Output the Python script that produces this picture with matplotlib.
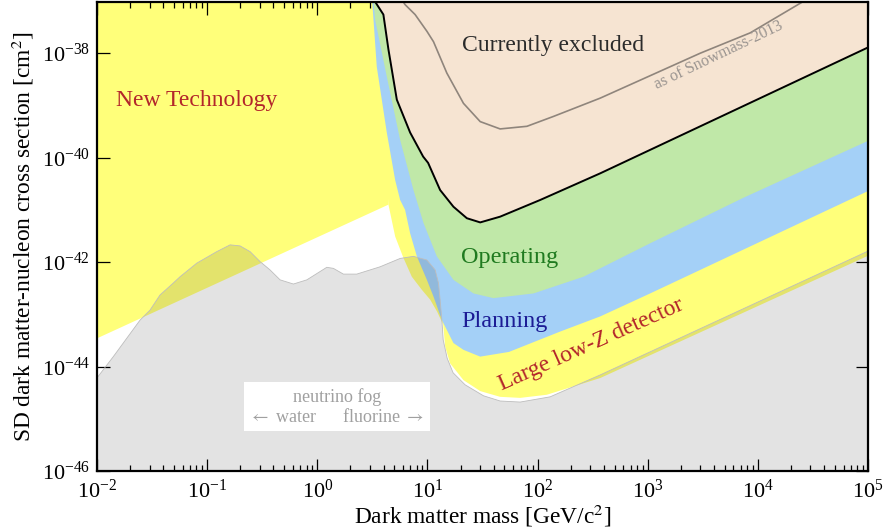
import numpy as np
import matplotlib
matplotlib.use("Agg")
import matplotlib.pyplot as plt
from matplotlib.ticker import LogLocator, NullLocator

plt.rcParams['font.family'] = ['Liberation Serif', 'DejaVu Serif']
plt.rcParams['mathtext.fontset'] = 'stix'

# all boundaries as log10(mass/GeV), log10(sigma/cm^2)
TOP = -36.5

newtech_logm = [-2.0, 0.646, 0.646, -2.0]
newtech_logs = [-43.46, -40.90, TOP, TOP]

lowz_logm = [0.50, 0.646, 0.707, 0.782, 0.858, 0.949, 1.025, 1.088, 1.143, 1.161,
             1.206, 1.327, 1.479, 1.660, 1.842, 2.084, 2.569, 5.03]
lowz_logs = [-37.0, -40.90, -41.51, -41.92, -42.28, -42.53, -42.72, -42.95, -43.20, -43.62,
             -43.94, -44.26, -44.47, -44.58, -44.60, -44.54, -44.22, -41.85]

plan_logm = [0.495, 0.540, 0.631, 0.707, 0.752, 0.797, 0.843, 0.904, 0.995, 1.055,
             1.131, 1.236, 1.327, 1.479, 1.740, 2.205, 2.569, 3.022, 5.03]
plan_logs = [-36.9, -38.26, -39.52, -40.43, -40.81, -41.00, -41.45, -41.89, -42.34, -42.66,
             -43.11, -43.55, -43.68, -43.81, -43.72, -43.33, -43.04, -42.60, -40.61]

oper_logm = [0.505, 0.525, 0.631, 0.752, 0.873, 0.964, 1.085, 1.236, 1.418, 1.599,
             1.963, 2.417, 3.022, 3.867, 5.03]
oper_logs = [-36.9, -37.36, -38.45, -39.66, -40.62, -41.25, -41.89, -42.34, -42.60, -42.69,
             -42.60, -42.28, -41.64, -40.77, -39.65]

excl_logm = [0.490, 0.600, 0.646, 0.722, 0.843, 0.961, 1.006, 1.115, 1.236, 1.358,
             1.479, 1.660, 2.024, 2.569, 5.03]
excl_logs = [-36.9, -37.26, -37.93, -38.89, -39.52, -39.98, -40.10, -40.62, -40.94, -41.16,
             -41.24, -41.13, -40.81, -40.30, -37.86]

snow_logm = [0.760, 0.797, 0.888, 0.995, 1.055, 1.176, 1.327, 1.479, 1.660, 1.903,
             2.145, 2.569, 3.477, 3.931, 4.50]
snow_logs = [-36.95, -37.07, -37.26, -37.58, -37.78, -38.38, -38.96, -39.31, -39.45, -39.40,
             -39.21, -38.86, -38.00, -37.61, -36.90]

fog_logm = [-2.03, -1.852, -1.609, -1.519, -1.428, -1.307, -1.246, -1.094, -0.913, -0.792,
            -0.701, -0.610, -0.520, -0.429, -0.338, -0.217, -0.095, 0.086, 0.146, 0.237,
            0.358, 0.570, 0.752, 0.873, 0.995, 1.070, 1.100, 1.115, 1.131, 1.143,
            1.179, 1.233, 1.342, 1.509, 1.660, 1.842, 2.114, 2.569, 5.03]
fog_logs = [-44.30, -43.81, -43.11, -42.92, -42.63, -42.40, -42.28, -42.02, -41.80, -41.67,
            -41.69, -41.80, -41.99, -42.15, -42.34, -42.42, -42.34, -42.10, -42.12, -42.23,
            -42.23, -42.09, -41.93, -41.89, -41.96, -42.15, -42.40, -42.72, -43.11, -43.49,
            -43.84, -44.12, -44.35, -44.56, -44.66, -44.68, -44.58, -44.16, -41.76]

mass_ticks = [1e-2, 1e-1, 1e0, 1e1, 1e2, 1e3, 1e4, 1e5]
sigma_ticks = [1e-46, 1e-44, 1e-42, 1e-40, 1e-38]

YELLOW = '#ffff7a'
BLUE = '#a4d0f7'
GREEN = '#c0e8a8'
BEIGE = '#f6e4d2'


def closed_region(logm, logs):
    m = list(logm) + [logm[-1], logm[0]]
    s = list(logs) + [TOP, TOP]
    return 10.0 ** np.array(m), 10.0 ** np.array(s)


fig = plt.figure(figsize=(8.86, 5.31), dpi=100)
ax = fig.add_axes([0.1095, 0.113, 0.8702, 0.8832])
ax.set_xscale('log')
ax.set_yscale('log')

ax.fill(10.0 ** np.array(newtech_logm), 10.0 ** np.array(newtech_logs), color=YELLOW, lw=0, zorder=1)
ax.fill(*closed_region(lowz_logm, lowz_logs), color=YELLOW, lw=0, zorder=1)
ax.fill(*closed_region(plan_logm, plan_logs), color=BLUE, lw=0, zorder=2)
ax.fill(*closed_region(oper_logm, oper_logs), color=GREEN, lw=0, zorder=3)
ax.fill(*closed_region(excl_logm, excl_logs), color=BEIGE, lw=0, zorder=4)
ax.plot(10.0 ** np.array(excl_logm), 10.0 ** np.array(excl_logs), color='black', lw=1.4,
        solid_joinstyle='round', zorder=5)
ax.plot(10.0 ** np.array(snow_logm), 10.0 ** np.array(snow_logs), color='#8f857c', lw=1.2,
        solid_joinstyle='round', zorder=5)

fm = 10.0 ** np.array(fog_logm)
fs = 10.0 ** np.array(fog_logs)
ax.fill(np.concatenate([fm, [fm[-1], fm[0]]]), np.concatenate([fs, [1e-48, 1e-48]]),
        facecolor=(0, 0, 0, 0.11), edgecolor='none', zorder=6)
ax.plot(fm, fs, color='#bdbdbd', lw=0.6, zorder=6)

ax.set_xlim(1e-2, 1e5)
ax.set_ylim(1e-46, 10 ** -37.02)

ax.text(0.0149, 10 ** -38.91, 'New Technology', color='#b3262b', fontsize=17, ha='left', va='center', zorder=8)
ax.text(138.6, 10 ** -37.86, 'Currently excluded', color='#2b2b2b', fontsize=17, ha='center', va='center', zorder=8)
ax.text(55.8, 10 ** -41.92, 'Operating', color='#1f7a1f', fontsize=17.5, ha='center', va='center', zorder=8)
ax.text(49.8, 10 ** -43.13, 'Planning', color='#1c1c95', fontsize=17.5, ha='center', va='center', zorder=8)
ax.text(307, 10 ** -43.59, 'Large low-Z detector', color='#b3262b', fontsize=17, ha='center', va='center',
        rotation=24, rotation_mode='anchor', zorder=8)
ax.text(4400, 10 ** -38.03, 'as of Snowmass-2013', color='#9a9490', fontsize=11.5, ha='center', va='center',
        rotation=25.5, rotation_mode='anchor', zorder=8)
ax.text(1.5, 10 ** -44.77, 'neutrino fog\n$\\leftarrow$ water      fluorine $\\rightarrow$', color='#a0a0a0',
        fontsize=13, ha='center', va='center', multialignment='center', linespacing=1.15,
        bbox=dict(boxstyle='square,pad=0.3', fc='white', ec='none'), zorder=9)

ax.set_xticks(mass_ticks)
ax.set_yticks(sigma_ticks)
ax.yaxis.set_minor_locator(NullLocator())
ax.xaxis.set_minor_locator(LogLocator(base=10, subs=np.arange(2, 10), numticks=20))
ax.tick_params(which='both', direction='in', top=True, right=True, labelsize=16, width=0.9, zorder=10)
ax.tick_params(which='major', length=9, pad=5)
ax.tick_params(axis='x', which='major', pad=6)
ax.tick_params(which='minor', length=4.5)
for sp in ax.spines.values():
    sp.set_linewidth(1.6)
    sp.set_zorder(10)

ax.set_xlabel('Dark matter mass [GeV/c$^2$]', fontsize=16.8, labelpad=0)
ax.set_ylabel('SD dark matter-nucleon cross section [cm$^2$]', fontsize=16.8, labelpad=4)

fig.savefig('out.png', dpi=100)
